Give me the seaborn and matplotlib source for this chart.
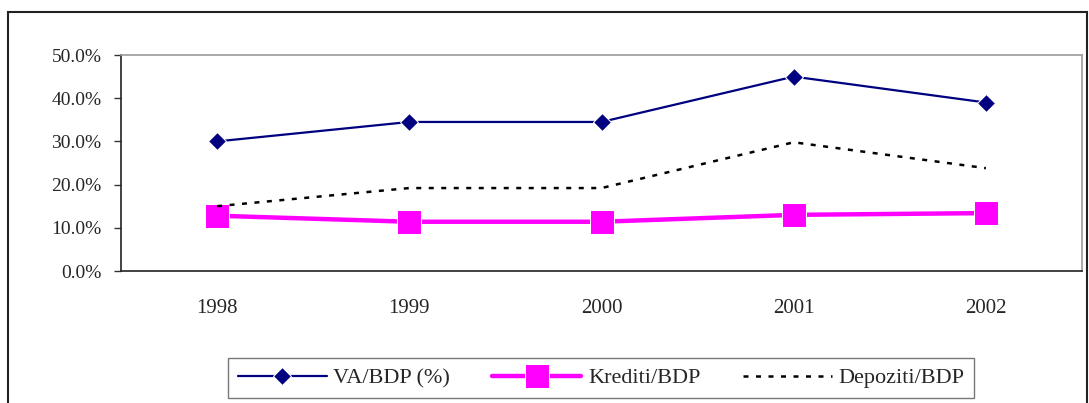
import numpy as np
import pandas as pd
import matplotlib
matplotlib.use("Agg")
import matplotlib.pyplot as plt
import seaborn as sns
from matplotlib.patches import Rectangle
from matplotlib.ticker import FixedLocator, PercentFormatter

# data
years = ["1998", "1999", "2000", "2001", "2002"]
va_bdp = [0.300, 0.345, 0.345, 0.450, 0.390]
krediti_bdp = [0.128, 0.114, 0.114, 0.130, 0.134]
depoziti_bdp = [0.150, 0.192, 0.192, 0.298, 0.238]
y_ticks = [0.0, 0.1, 0.2, 0.3, 0.4, 0.5]

sns.set_style("white")
plt.rcParams["font.family"] = ["Liberation Serif", "DejaVu Serif"]

df = pd.DataFrame({
    "pos": np.arange(len(years)),
    "VA/BDP (%)": va_bdp,
    "Krediti/BDP": krediti_bdp,
    "Depoziti/BDP": depoziti_bdp,
})

fig = plt.figure(figsize=(10.89, 4.03), dpi=100)
ax = fig.add_axes([121 / 1089, 1 - 271 / 403, (1082 - 121) / 1089, (271 - 55) / 403])

sns.lineplot(data=df, x="pos", y="VA/BDP (%)", ax=ax, color="#000080",
             marker="D", markersize=9, linewidth=1.6, label="VA/BDP (%)")
sns.lineplot(data=df, x="pos", y="Krediti/BDP", ax=ax, color="#FF00FF",
             marker="s", markersize=17, linewidth=3.2, label="Krediti/BDP")
sns.lineplot(data=df, x="pos", y="Depoziti/BDP", ax=ax, color="black",
             linestyle=(0, (2, 3)), linewidth=1.8, label="Depoziti/BDP")

ax.set_xlim(-0.5, len(years) - 0.5)
ax.set_ylim(0, 0.5)
ax.set_xlabel("")
ax.set_ylabel("")

# ticks at category boundaries, labels at category centers
ax.xaxis.set_major_locator(FixedLocator(np.arange(-0.5, len(years), 1.0)))
ax.xaxis.set_minor_locator(FixedLocator(np.arange(len(years))))
ax.set_xticklabels([], minor=False)
ax.set_xticklabels(years, minor=True)
ax.tick_params(axis="x", which="major", direction="out", length=5, width=1, color="#333333")
ax.tick_params(axis="x", which="minor", length=0, pad=20, labelsize=15)

ax.set_yticks(y_ticks)
ax.yaxis.set_major_formatter(PercentFormatter(1.0, decimals=1))
ax.tick_params(axis="y", direction="out", length=5, width=1, color="#333333",
               labelsize=14, pad=9, left=True)

for side in ["left", "bottom"]:
    ax.spines[side].set_color("#222222")
    ax.spines[side].set_linewidth(1.2)
for side in ["top", "right"]:
    ax.spines[side].set_color("#999999")
    ax.spines[side].set_linewidth(1.2)

handles, labels = ax.get_legend_handles_labels()
ax.get_legend().remove()
leg = fig.legend(handles, labels, loc="center", bbox_to_anchor=(601 / 1089, 1 - 378 / 403),
                 ncol=3, frameon=True, fancybox=False, fontsize=16, handlelength=4,
                 columnspacing=1.9, handletextpad=0.3, borderpad=0.45, borderaxespad=0)
leg.get_frame().set_edgecolor("#555555")
leg.get_frame().set_linewidth(1.0)

# outer chart frame
fig.patches.append(Rectangle((8 / 1089, -0.02), (1087 - 8) / 1089, 1.02 - 12 / 403,
                             transform=fig.transFigure, fill=False,
                             edgecolor="#222222", linewidth=1.5))

fig.savefig("out.png", dpi=100)
